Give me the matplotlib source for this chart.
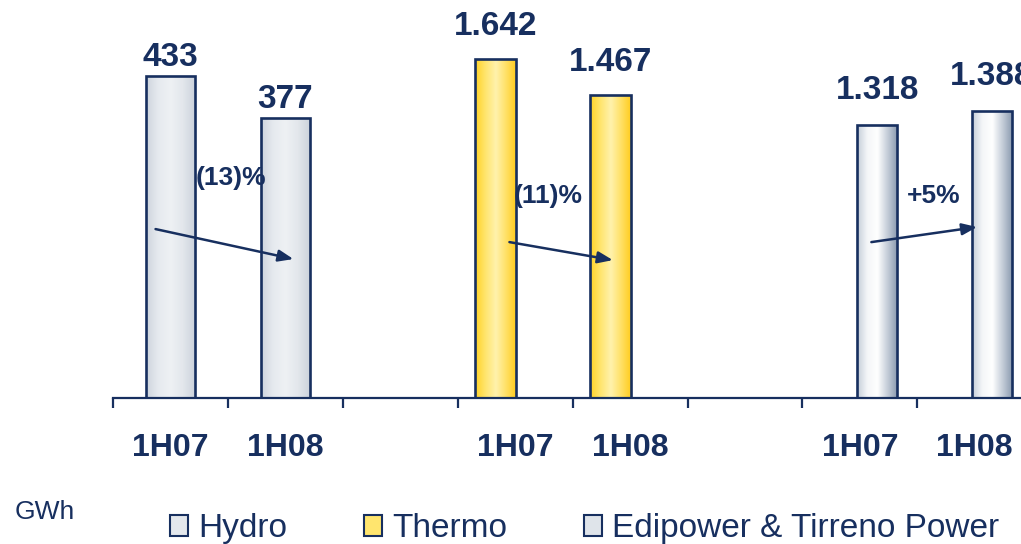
import matplotlib.pyplot as plt
import numpy as np
from matplotlib.colors import LinearSegmentedColormap
from matplotlib.patches import Patch

plt.rcParams['font.family'] = ['Liberation Sans', 'DejaVu Sans']

# data
categories = ['1H07', '1H08', '', '1H07', '1H08', '', '1H07', '1H08']
hydro = [433, 377]
thermo = [1642, 1467]
edipower = [1318, 1388]
hydro_pos = [0, 1]
thermo_pos = [3, 4]
edi_pos = [6, 7]
changes = ['(13)%', '(11)%', '+5%']

navy = '#172f5f'

fig = plt.figure(figsize=(10.21, 5.44), dpi=100)
ax = fig.add_axes([0.1107, 0.2684, 0.9003, 0.7316])
ax2 = ax.twinx()
# main axis on top so the arrows run over the hydro bars
ax.set_zorder(ax2.get_zorder() + 1)
ax.patch.set_visible(False)

grad_hydro = LinearSegmentedColormap.from_list('h', ['#cdd4dd', '#e6eaef', '#eef1f4', '#e3e7ec', '#ccd3dc'])
grad_thermo = LinearSegmentedColormap.from_list('t', ['#ffd225', '#ffe56e', '#fff2ad', '#ffe064', '#ffcb18'])
grad_edi = LinearSegmentedColormap.from_list('e', ['#c3ccd8', '#f4f6f8', '#ffffff', '#c4cdd8', '#8797ad'])


def gradient_bars(axis, pos, vals, offset, width, cmap):
    bars = axis.bar(np.array(pos) + offset, vals, width=width, facecolor='none',
                    edgecolor=navy, linewidth=1.9, zorder=3)
    g = np.linspace(0, 1, 256).reshape(1, -1)
    for b in bars:
        x0, w, h = b.get_x(), b.get_width(), b.get_height()
        im = axis.imshow(g, extent=[x0, x0 + w, 0, h], aspect='auto', cmap=cmap,
                         zorder=2, interpolation='bicubic')
        im.set_clip_path(b)
    return bars


hb = gradient_bars(ax2, hydro_pos, hydro, 0.0, 0.42, grad_hydro)
tb = gradient_bars(ax, thermo_pos, thermo, -0.17, 0.36, grad_thermo)
eb = gradient_bars(ax, edi_pos, edipower, 0.15, 0.35, grad_edi)

fmt = lambda v: f'{v:,}'.replace(',', '.')
ax2.bar_label(hb, labels=[fmt(v) for v in hydro], padding=2, fontsize=24,
              fontweight='bold', color=navy)
ax.bar_label(tb, labels=[fmt(v) for v in thermo], padding=12, fontsize=24,
             fontweight='bold', color=navy)
ax.bar_label(eb, labels=[fmt(v) for v in edipower], padding=14, fontsize=24,
             fontweight='bold', color=navy)

ax.set_xlim(-0.5, 7.5)
ax.set_ylim(0, 1925)
ax2.set_ylim(0, 535)

# growth arrows
arrows = [((-0.13, 817), (1.07, 672)), ((2.95, 754), (3.85, 667)), ((6.10, 754), (7.02, 827))]
label_xy = [(0.53, 1064), (3.29, 977), (6.64, 977)]
for (s, e), txt, lxy in zip(arrows, changes, label_xy):
    ax.annotate('', xy=e, xytext=s, zorder=5,
                arrowprops=dict(arrowstyle='-|>,head_length=0.9,head_width=0.35',
                                color=navy, lw=1.8, shrinkA=0, shrinkB=0))
    ax.text(lxy[0], lxy[1], txt, ha='center', va='center', fontsize=19,
            fontweight='bold', color=navy, zorder=5)

for a in (ax, ax2):
    for side in ('top', 'left', 'right'):
        a.spines[side].set_visible(False)
    a.set_yticks([])
ax2.spines['bottom'].set_visible(False)
ax.spines['bottom'].set_color(navy)
ax.spines['bottom'].set_linewidth(1.6)

ax.set_xticks(np.arange(-0.5, 8.0, 1.0))
ax.set_xticklabels([])
ax.tick_params(axis='x', which='major', direction='out', length=7, width=1.6, color=navy)
ax.set_xticks(np.arange(len(categories)), minor=True)
ax.set_xticklabels(categories, minor=True, fontsize=23, fontweight='bold', color=navy)
ax.tick_params(axis='x', which='minor', length=0, pad=25)

fig.text(0.014, 0.058, 'GWh', fontsize=19, color=navy, ha='left', va='center')
handles = [Patch(facecolor='#e3e7ec', edgecolor=navy, linewidth=1.5),
           Patch(facecolor='#ffe56e', edgecolor=navy, linewidth=1.5),
           Patch(facecolor='#dfe4ea', edgecolor=navy, linewidth=1.5)]
fig.legend(handles, ['Hydro', 'Thermo', 'Edipower & Tirreno Power'], ncol=3,
           loc='center left', bbox_to_anchor=(0.153, 0.028), frameon=False,
           fontsize=24, labelcolor=navy, handlelength=0.55, handleheight=0.55,
           handletextpad=0.3, columnspacing=2.3, borderaxespad=0)

fig.savefig('out.png', dpi=100)
